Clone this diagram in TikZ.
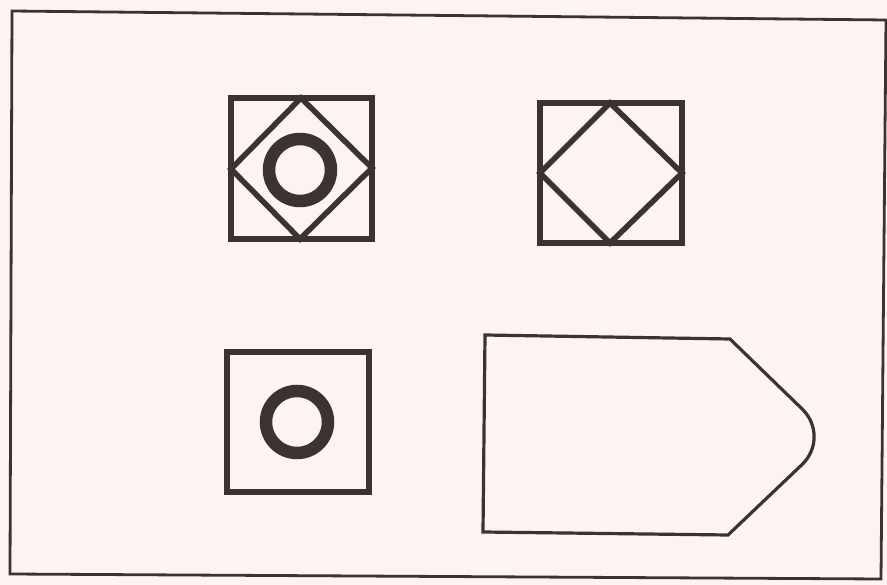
\documentclass[tikz,border=0pt]{standalone}
\begin{document}
\begin{tikzpicture}[x=1pt,y=-1pt,
  ink/.style={draw=inkc, line join=miter},
  box/.style={ink, line width=5.5pt},
  ring/.style={draw=inkc, line width=12.5pt},
  outline/.style={ink, line width=3.2pt}]
\definecolor{paper}{HTML}{FBF4F1}
\definecolor{inkc}{HTML}{3B3331}
\fill[paper] (0,0) rectangle (887,585);
\useasboundingbox (0,0) rectangle (887,585);
% outer frame
\draw[outline, line width=2.8pt] (12,11) -- (886,20) -- (881,579) -- (10,574) -- cycle;
% top-left: square, diamond, ring
\draw[box] (231,98) rectangle (372,239);
\draw[box] (301,98) -- (372,168) -- (300,239) -- (231,169) -- cycle;
\draw[ring] (300,170) circle (31);
% top-right: square and diamond
\draw[box] (540,103) rectangle (682,243);
\draw[box] (610,103) -- (682,173) -- (610,243) -- (540,173) -- cycle;
% bottom-left: square and ring
\draw[box] (227,352) rectangle (369,492);
\draw[ring] (297,422) circle (31);
% bottom-right: pointed outline
\draw[outline] (485,335) -- (730,339) [rounded corners=40pt] -- (831,437) [sharp corners] -- (728,535) -- (483,532) -- cycle;
\end{tikzpicture}
\end{document}
